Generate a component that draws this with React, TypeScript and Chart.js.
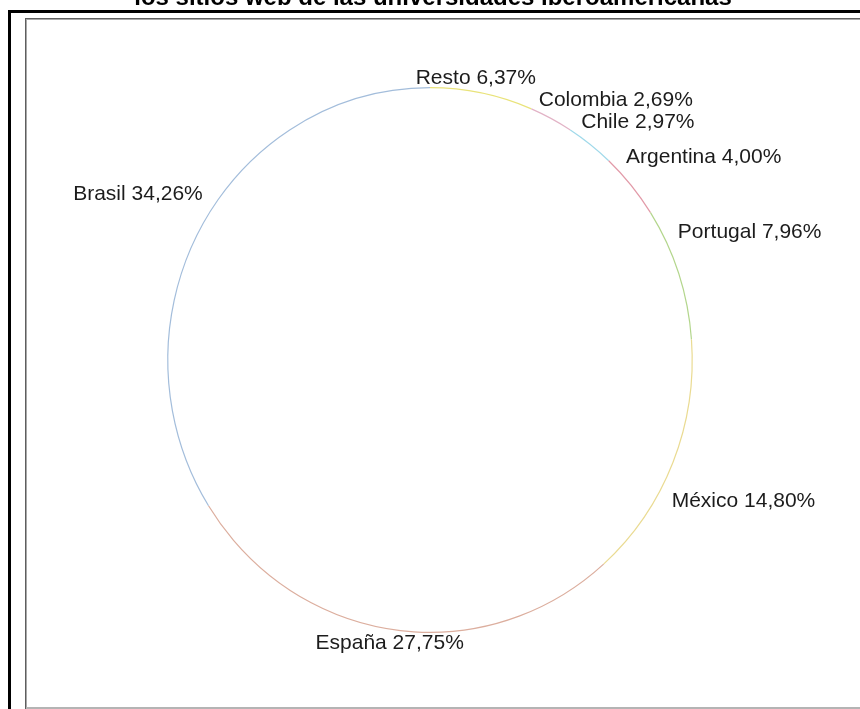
import React, { useEffect, useRef } from "react";
import { Chart, registerables } from "chart.js";

Chart.register(...registerables);

const TITLE = "los sitios web de las universidades iberoamericanas";
const countries = ["Resto", "Colombia", "Chile", "Argentina", "Portugal", "México", "España", "Brasil"];
const shares = [6.37, 2.69, 2.97, 4.0, 7.96, 14.8, 27.75, 34.26];
const outlineColors = ["#e9e37a", "#e2b3c6", "#9fd9ea", "#e29aa8", "#b3d68c", "#eadb92", "#dcae9e", "#a3bddb"];

const fmt = (v: number) => v.toFixed(2).replace(".", ",") + "%";

const framePlugin = {
  id: "frame",
  beforeDraw(chart: any) {
    const ctx = chart.ctx;
    const W = chart.width;
    const H = chart.height;
    ctx.save();
    ctx.fillStyle = "#ffffff";
    ctx.fillRect(0, 0, W, H);
    ctx.fillStyle = "#000000";
    ctx.fillRect(8, 10, W - 8, 3);
    ctx.fillRect(8, 10, 3, H - 10);
    ctx.fillStyle = "#5e5e5e";
    ctx.fillRect(25, 18, W - 25, 1);
    ctx.fillRect(25, 18, 1, H - 18);
    ctx.fillStyle = "#a8a8a8";
    ctx.fillRect(26, 19, W - 26, 1);
    ctx.fillRect(26, 19, 1, H - 19);
    ctx.fillStyle = "#b4b4b4";
    ctx.fillRect(26, 707, W - 26, 2);
    ctx.fillStyle = "#000000";
    ctx.font = "bold 24px Arial, 'Liberation Sans', sans-serif";
    ctx.textAlign = "center";
    ctx.textBaseline = "alphabetic";
    ctx.fillText(TITLE, 433, 5);
    ctx.restore();
  },
};

const outlinePlugin = {
  id: "outline",
  afterDatasetsDraw(chart: any) {
    const ctx = chart.ctx;
    const meta = chart.getDatasetMeta(0);
    ctx.save();
    meta.data.forEach((arc: any, i: number) => {
      const p = arc.getProps(["x", "y", "startAngle", "endAngle", "outerRadius"], true);
      ctx.beginPath();
      // the source pie is drawn very slightly taller than wide
      ctx.ellipse(p.x, p.y, p.outerRadius * 0.982, p.outerRadius * 1.02, 0, p.startAngle, p.endAngle);
      ctx.strokeStyle = outlineColors[i % outlineColors.length];
      ctx.lineWidth = 1.2;
      ctx.stroke();
    });
    ctx.restore();
  },
};

const labelPlugin = {
  id: "pieLabels",
  afterDatasetsDraw(chart: any) {
    const ctx = chart.ctx;
    const meta = chart.getDatasetMeta(0);
    ctx.save();
    ctx.font = "21px Arial, 'Liberation Sans', sans-serif";
    ctx.fillStyle = "#1c1c1c";
    ctx.textBaseline = "middle";
    meta.data.forEach((arc: any, i: number) => {
      const p = arc.getProps(["x", "y", "startAngle", "endAngle", "outerRadius"], true);
      const R = p.outerRadius;
      const a = (p.startAngle + p.endAngle) / 2;
      const c = Math.cos(a);
      const s = Math.sin(a);
      const text = countries[i] + " " + fmt(shares[i]);
      const ly = p.y + 0.871 * R * s + 0.2 * R * Math.sign(s);
      const ax = p.x + 1.073 * R * c;
      let lx = ax;
      if (Math.abs(c) < 0.3) {
        ctx.textAlign = "center";
        lx = ax - 0.04 * R * Math.sign(c) * (s < 0 ? 1 : 0);
      } else if (c > 0) {
        ctx.textAlign = "left";
        lx = ax - 0.089 * R;
      } else {
        ctx.textAlign = "right";
        lx = ax + 0.089 * R;
      }
      ctx.fillText(text, lx, ly);
    });
    ctx.restore();
  },
};

export default function App() {
  const ref = useRef<HTMLCanvasElement | null>(null);
  useEffect(() => {
    document.body.style.margin = "0";
    const canvas = ref.current;
    if (!canvas) return;
    const chart = new Chart(canvas, {
      type: "pie",
      data: {
        labels: countries,
        datasets: [
          {
            data: shares,
            backgroundColor: "#ffffff",
            borderWidth: 0,
          },
        ],
      },
      options: {
        responsive: false,
        animation: false,
        devicePixelRatio: 1,
        layout: { padding: { left: 163, right: 163, top: 93, bottom: 82 } },
        plugins: {
          legend: { display: false },
          tooltip: { enabled: false },
          title: { display: false },
        },
      },
      plugins: [framePlugin, outlinePlugin, labelPlugin],
    });
    return () => chart.destroy();
  }, []);
  return (
    <div style={{ width: 860, height: 709, position: "relative", overflow: "hidden" }}>
      <canvas ref={ref} width={860} height={709} style={{ display: "block" }} />
    </div>
  );
}
